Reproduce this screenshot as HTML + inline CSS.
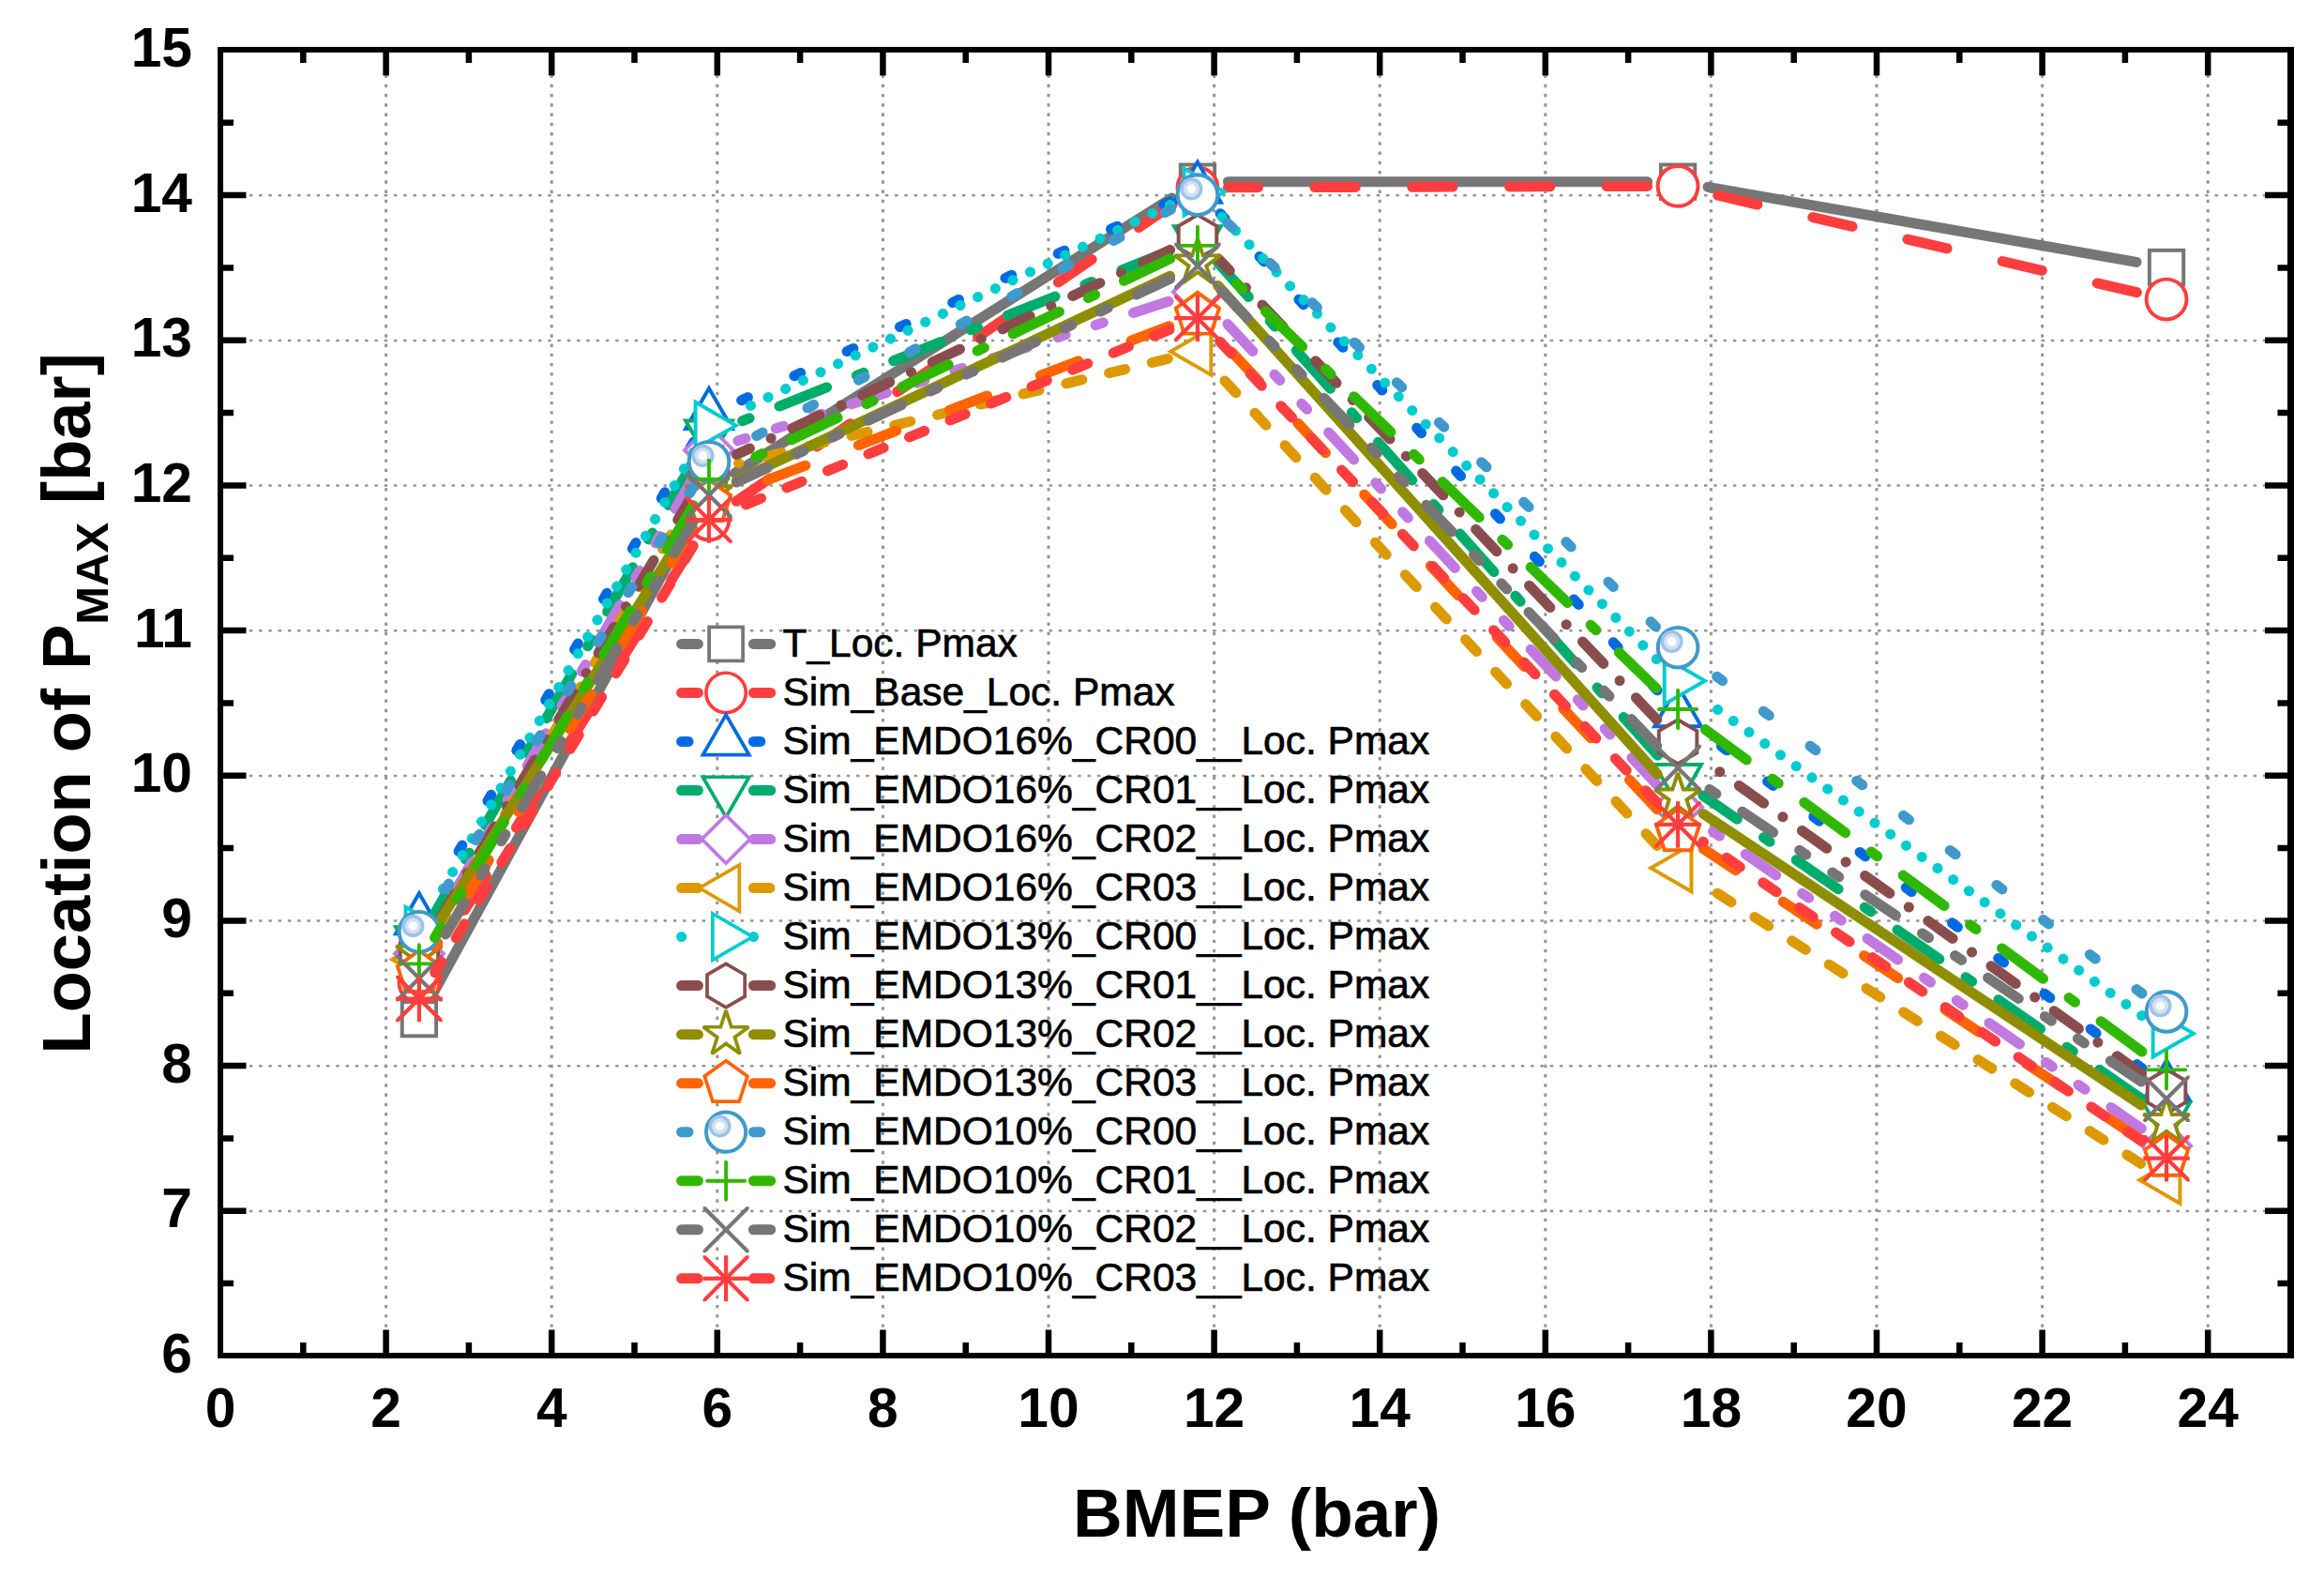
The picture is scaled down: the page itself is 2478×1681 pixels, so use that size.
<!DOCTYPE html>
<html><head><meta charset="utf-8"><title>Location of Pmax vs BMEP</title>
<style>
html,body{margin:0;padding:0;background:#fff;overflow:hidden}
svg{display:block}
text{font-family:"Liberation Sans",sans-serif;fill:#000}
.tk{font-weight:bold;font-size:58.7px}
.tt{font-weight:bold;font-size:72.3px}
.lg{font-size:42.5px;stroke:#000;stroke-width:0.7px}
</style></head><body>
<svg width="2478" height="1681" viewBox="0 0 2478 1681">
<defs><clipPath id="cb"><rect x="-24.5" y="-24.5" width="49" height="49"/></clipPath></defs>
<rect width="2478" height="1681" fill="#fff"/>
<g stroke="#959595" fill="none"><path stroke-width="3" stroke-dasharray="3.42 6.825" d="M411.6,1445.6 V53"/><path stroke-width="3" stroke-dasharray="3.42 6.825" d="M588.2,1445.6 V53"/><path stroke-width="3" stroke-dasharray="3.42 6.825" d="M764.8,1445.6 V53"/><path stroke-width="3" stroke-dasharray="3.42 6.825" d="M941.4,1445.6 V53"/><path stroke-width="3" stroke-dasharray="3.42 6.825" d="M1118,1445.6 V53"/><path stroke-width="3" stroke-dasharray="3.42 6.825" d="M1294.6,1445.6 V53"/><path stroke-width="3" stroke-dasharray="3.42 6.825" d="M1471.2,1445.6 V53"/><path stroke-width="3" stroke-dasharray="3.42 6.825" d="M1647.8,1445.6 V53"/><path stroke-width="3" stroke-dasharray="3.42 6.825" d="M1824.4,1445.6 V53"/><path stroke-width="3" stroke-dasharray="3.42 6.825" d="M2001,1445.6 V53"/><path stroke-width="3" stroke-dasharray="3.42 6.825" d="M2177.6,1445.6 V53"/><path stroke-width="3" stroke-dasharray="3.42 6.825" d="M2354.2,1445.6 V53"/><path stroke-width="2.5" stroke-dasharray="3.42 6.853" d="M235,1290.93 H2442.5"/><path stroke-width="2.5" stroke-dasharray="3.42 6.853" d="M235,1136.27 H2442.5"/><path stroke-width="2.5" stroke-dasharray="3.42 6.853" d="M235,981.6 H2442.5"/><path stroke-width="2.5" stroke-dasharray="3.42 6.853" d="M235,826.93 H2442.5"/><path stroke-width="2.5" stroke-dasharray="3.42 6.853" d="M235,672.27 H2442.5"/><path stroke-width="2.5" stroke-dasharray="3.42 6.853" d="M235,517.6 H2442.5"/><path stroke-width="2.5" stroke-dasharray="3.42 6.853" d="M235,362.93 H2442.5"/><path stroke-width="2.5" stroke-dasharray="3.42 6.853" d="M235,208.27 H2442.5"/></g>
<g><path d="M740.36,550.15L462.53,1057.67" fill="none" stroke="#767676" stroke-width="11" stroke-linecap="round"/><path d="M1249.43,211.06L783.48,504.33" fill="none" stroke="#767676" stroke-width="11" stroke-linecap="round"/><path d="M1756.58,193.75L1309.44,193.75" fill="none" stroke="#767676" stroke-width="11" stroke-linecap="round"/><path d="M2278.04,279.39L1821.09,199.35" fill="none" stroke="#767676" stroke-width="11" stroke-linecap="round"/><rect transform="translate(446.92,1086.17) scale(1.01)" x="-18" y="-18" width="36" height="36" fill="#fff" stroke="#767676" stroke-width="3.9"/><rect transform="translate(755.97,521.64) scale(1.01)" x="-18" y="-18" width="36" height="36" fill="#fff" stroke="#767676" stroke-width="3.9"/><rect transform="translate(1276.94,193.75) scale(1.01)" x="-18" y="-18" width="36" height="36" fill="#fff" stroke="#767676" stroke-width="3.9"/><rect transform="translate(1789.08,193.75) scale(1.01)" x="-18" y="-18" width="36" height="36" fill="#fff" stroke="#767676" stroke-width="3.9"/><rect transform="translate(2310.05,285) scale(1.01)" x="-18" y="-18" width="36" height="36" fill="#fff" stroke="#767676" stroke-width="3.9"/></g>
<g><path d="M738.72,581.66L464.17,1019.96" fill="none" stroke="#FE3E3E" stroke-width="11" stroke-linecap="round" stroke-dasharray="43.3 60.5"/><path d="M1250.06,218.21L782.85,535.85" fill="none" stroke="#FE3E3E" stroke-width="11" stroke-linecap="round" stroke-dasharray="43.3 60.5"/><path d="M1756.58,198.48L1309.44,199.84" fill="none" stroke="#FE3E3E" stroke-width="11" stroke-linecap="round" stroke-dasharray="43.3 60.5"/><path d="M2278.39,311.69L1820.74,205.72" fill="none" stroke="#FE3E3E" stroke-width="11" stroke-linecap="round" stroke-dasharray="43.3 60.5"/><circle transform="translate(446.92,1047.51) scale(1.01)" r="21.2" fill="#fff" stroke="#FE3E3E" stroke-width="3.9"/><circle transform="translate(755.97,554.12) scale(1.01)" r="21.2" fill="#fff" stroke="#FE3E3E" stroke-width="3.9"/><circle transform="translate(1276.94,199.93) scale(1.01)" r="21.2" fill="#fff" stroke="#FE3E3E" stroke-width="3.9"/><circle transform="translate(1789.08,198.39) scale(1.01)" r="21.2" fill="#fff" stroke="#FE3E3E" stroke-width="3.9"/><circle transform="translate(2310.05,319.03) scale(1.01)" r="21.2" fill="#fff" stroke="#FE3E3E" stroke-width="3.9"/></g>
<g><path d="M739.79,470.94L463.1,952.82" fill="none" stroke="#006BE0" stroke-width="11" stroke-linecap="round" stroke-dasharray="7.4 54.6"/><path d="M1247.45,215.14L785.46,429.1" fill="none" stroke="#006BE0" stroke-width="11" stroke-linecap="round" stroke-dasharray="7.4 54.6"/><path d="M1767.11,735.88L1298.91,225.43" fill="none" stroke="#006BE0" stroke-width="11" stroke-linecap="round" stroke-dasharray="7.4 54.6"/><path d="M2284.25,1139.1L1814.88,779.59" fill="none" stroke="#006BE0" stroke-width="11" stroke-linecap="round" stroke-dasharray="7.4 54.6"/><polygon transform="translate(446.92,981) scale(1.01)" points="0,-28.5 24.68,14.25 -24.68,14.25" fill="#fff" stroke="#006BE0" stroke-width="3.9"/><polygon transform="translate(755.97,442.76) scale(1.01)" points="0,-28.5 24.68,14.25 -24.68,14.25" fill="#fff" stroke="#006BE0" stroke-width="3.9"/><polygon transform="translate(1276.94,201.48) scale(1.01)" points="0,-28.5 24.68,14.25 -24.68,14.25" fill="#fff" stroke="#006BE0" stroke-width="3.9"/><polygon transform="translate(1789.08,759.83) scale(1.01)" points="0,-28.5 24.68,14.25 -24.68,14.25" fill="#fff" stroke="#006BE0" stroke-width="3.9"/><polygon transform="translate(2310.05,1158.87) scale(1.01)" points="0,-28.5 24.68,14.25 -24.68,14.25" fill="#fff" stroke="#006BE0" stroke-width="3.9"/></g>
<g><path d="M739.82,491.07L463.07,974.45" fill="none" stroke="#00AC6B" stroke-width="11" stroke-linecap="round" stroke-dasharray="54.5 34.25 8 34.25"/><path d="M1246.74,267.63L786.17,450.85" fill="none" stroke="#00AC6B" stroke-width="11" stroke-linecap="round" stroke-dasharray="54.5 34.25 8 34.25"/><path d="M1767.44,805.18L1298.58,279.86" fill="none" stroke="#00AC6B" stroke-width="11" stroke-linecap="round" stroke-dasharray="54.5 34.25 8 34.25"/><path d="M2283.32,1171.31L1815.81,847.92" fill="none" stroke="#00AC6B" stroke-width="11" stroke-linecap="round" stroke-dasharray="54.5 34.25 8 34.25"/><polygon transform="translate(446.92,1002.65) scale(1.01)" points="0,28.5 24.68,-14.25 -24.68,-14.25" fill="#fff" stroke="#00AC6B" stroke-width="3.9"/><polygon transform="translate(755.97,462.87) scale(1.01)" points="0,28.5 24.68,-14.25 -24.68,-14.25" fill="#fff" stroke="#00AC6B" stroke-width="3.9"/><polygon transform="translate(1276.94,255.61) scale(1.01)" points="0,28.5 24.68,-14.25 -24.68,-14.25" fill="#fff" stroke="#00AC6B" stroke-width="3.9"/><polygon transform="translate(1789.08,829.43) scale(1.01)" points="0,28.5 24.68,-14.25 -24.68,-14.25" fill="#fff" stroke="#00AC6B" stroke-width="3.9"/><polygon transform="translate(2310.05,1189.8) scale(1.01)" points="0,28.5 24.68,-14.25 -24.68,-14.25" fill="#fff" stroke="#00AC6B" stroke-width="3.9"/></g>
<g><path d="M739.75,508.04L463.14,988.41" fill="none" stroke="#C178E0" stroke-width="11" stroke-linecap="round" stroke-dasharray="39.5 33.8 8.5 33.8 8.5 33.9"/><path d="M1246.02,321.3L786.89,469.87" fill="none" stroke="#C178E0" stroke-width="11" stroke-linecap="round" stroke-dasharray="39.5 33.8 8.5 33.8 8.5 33.9"/><path d="M1766.91,836.59L1299.11,335.06" fill="none" stroke="#C178E0" stroke-width="11" stroke-linecap="round" stroke-dasharray="39.5 33.8 8.5 33.8 8.5 33.9"/><path d="M2283.34,1202.99L1815.79,878.88" fill="none" stroke="#C178E0" stroke-width="11" stroke-linecap="round" stroke-dasharray="39.5 33.8 8.5 33.8 8.5 33.9"/><polygon transform="translate(446.92,1016.57) scale(1.01)" points="0,-25.7 25.7,0 0,25.7 -25.7,0" fill="#fff" stroke="#C178E0" stroke-width="3.9"/><polygon transform="translate(755.97,479.88) scale(1.01)" points="0,-25.7 25.7,0 0,25.7 -25.7,0" fill="#fff" stroke="#C178E0" stroke-width="3.9"/><polygon transform="translate(1276.94,311.29) scale(1.01)" points="0,-25.7 25.7,0 0,25.7 -25.7,0" fill="#fff" stroke="#C178E0" stroke-width="3.9"/><polygon transform="translate(1789.08,860.36) scale(1.01)" points="0,-25.7 25.7,0 0,25.7 -25.7,0" fill="#fff" stroke="#C178E0" stroke-width="3.9"/><polygon transform="translate(2310.05,1221.51) scale(1.01)" points="0,-25.7 25.7,0 0,25.7 -25.7,0" fill="#fff" stroke="#C178E0" stroke-width="3.9"/></g>
<g><path d="M739.39,529.49L463.5,994.8" fill="none" stroke="#DC9A00" stroke-width="11" stroke-linecap="round" stroke-dasharray="17.5 29.6"/><path d="M1245.36,382.39L787.55,493.85" fill="none" stroke="#DC9A00" stroke-width="11" stroke-linecap="round" stroke-dasharray="17.5 29.6"/><path d="M1766.95,901.52L1299.07,398.5" fill="none" stroke="#DC9A00" stroke-width="11" stroke-linecap="round" stroke-dasharray="17.5 29.6"/><path d="M2282.66,1240.37L1816.47,942.81" fill="none" stroke="#DC9A00" stroke-width="11" stroke-linecap="round" stroke-dasharray="17.5 29.6"/><polygon transform="translate(446.92,1022.76) scale(1.01)" points="-28.5,0 14.25,-24.68 14.25,24.68" fill="#fff" stroke="#DC9A00" stroke-width="3.9"/><polygon transform="translate(755.97,501.53) scale(1.01)" points="-28.5,0 14.25,-24.68 14.25,24.68" fill="#fff" stroke="#DC9A00" stroke-width="3.9"/><polygon transform="translate(1276.94,374.71) scale(1.01)" points="-28.5,0 14.25,-24.68 14.25,24.68" fill="#fff" stroke="#DC9A00" stroke-width="3.9"/><polygon transform="translate(1789.08,925.32) scale(1.01)" points="-28.5,0 14.25,-24.68 14.25,24.68" fill="#fff" stroke="#DC9A00" stroke-width="3.9"/><polygon transform="translate(2310.05,1257.85) scale(1.01)" points="-28.5,0 14.25,-24.68 14.25,24.68" fill="#fff" stroke="#DC9A00" stroke-width="3.9"/></g>
<g><path d="M739.79,481.77L463.1,963.64" fill="none" stroke="#00CCD0" stroke-width="11" stroke-linecap="round" stroke-dasharray="0.1 20.55"/><path d="M1247.62,218.59L785.29,439.57" fill="none" stroke="#00CCD0" stroke-width="11" stroke-linecap="round" stroke-dasharray="0.1 20.55"/><path d="M1766.3,702.62L1299.72,227.76" fill="none" stroke="#00CCD0" stroke-width="11" stroke-linecap="round" stroke-dasharray="0.1 20.55"/><path d="M2283.69,1082.63L1815.44,744.81" fill="none" stroke="#00CCD0" stroke-width="11" stroke-linecap="round" stroke-dasharray="0.1 20.55"/><polygon transform="translate(446.92,991.83) scale(1.01)" points="28.5,0 -14.25,-24.68 -14.25,24.68" fill="#fff" stroke="#00CCD0" stroke-width="3.9"/><polygon transform="translate(755.97,453.59) scale(1.01)" points="28.5,0 -14.25,-24.68 -14.25,24.68" fill="#fff" stroke="#00CCD0" stroke-width="3.9"/><polygon transform="translate(1276.94,204.57) scale(1.01)" points="28.5,0 -14.25,-24.68 -14.25,24.68" fill="#fff" stroke="#00CCD0" stroke-width="3.9"/><polygon transform="translate(1789.08,725.8) scale(1.01)" points="28.5,0 -14.25,-24.68 -14.25,24.68" fill="#fff" stroke="#00CCD0" stroke-width="3.9"/><polygon transform="translate(2310.05,1101.64) scale(1.01)" points="28.5,0 -14.25,-24.68 -14.25,24.68" fill="#fff" stroke="#00CCD0" stroke-width="3.9"/></g>
<g><path d="M739.32,526.35L463.57,988.66" fill="none" stroke="#8A4D4D" stroke-width="11" stroke-linecap="round" stroke-dasharray="32.3 25.15 0.1 25.05"/><path d="M1247.55,266.39L785.36,484.57" fill="none" stroke="#8A4D4D" stroke-width="11" stroke-linecap="round" stroke-dasharray="32.3 25.15 0.1 25.05"/><path d="M1766.68,767.22L1299.34,276.06" fill="none" stroke="#8A4D4D" stroke-width="11" stroke-linecap="round" stroke-dasharray="32.3 25.15 0.1 25.05"/><path d="M2283.62,1144.6L1815.51,809.67" fill="none" stroke="#8A4D4D" stroke-width="11" stroke-linecap="round" stroke-dasharray="32.3 25.15 0.1 25.05"/><polygon transform="translate(446.92,1016.57) scale(1.01)" points="0,-23.2 20.09,-11.6 20.09,11.6 0,23.2 -20.09,11.6 -20.09,-11.6" fill="#fff" stroke="#8A4D4D" stroke-width="3.9"/><polygon transform="translate(755.97,498.44) scale(1.01)" points="0,-23.2 20.09,-11.6 20.09,11.6 0,23.2 -20.09,11.6 -20.09,-11.6" fill="#fff" stroke="#8A4D4D" stroke-width="3.9"/><polygon transform="translate(1276.94,252.52) scale(1.01)" points="0,-23.2 20.09,-11.6 20.09,11.6 0,23.2 -20.09,11.6 -20.09,-11.6" fill="#fff" stroke="#8A4D4D" stroke-width="3.9"/><polygon transform="translate(1789.08,790.76) scale(1.01)" points="0,-23.2 20.09,-11.6 20.09,11.6 0,23.2 -20.09,11.6 -20.09,-11.6" fill="#fff" stroke="#8A4D4D" stroke-width="3.9"/><polygon transform="translate(2310.05,1163.51) scale(1.01)" points="0,-23.2 20.09,-11.6 20.09,11.6 0,23.2 -20.09,11.6 -20.09,-11.6" fill="#fff" stroke="#8A4D4D" stroke-width="3.9"/></g>
<g><path d="M738.64,553.77L464.25,989.08" fill="none" stroke="#8E8E00" stroke-width="11" stroke-linecap="round"/><path d="M1247.55,294.23L785.36,512.41" fill="none" stroke="#8E8E00" stroke-width="11" stroke-linecap="round"/><path d="M1767.34,825.37L1298.68,304.52" fill="none" stroke="#8E8E00" stroke-width="11" stroke-linecap="round"/><path d="M2282.99,1177.99L1816.14,867.53" fill="none" stroke="#8E8E00" stroke-width="11" stroke-linecap="round"/><polygon transform="translate(446.92,1016.57) scale(1.01)" points="0,-25.5 5.73,-7.88 24.25,-7.88 9.26,3.01 14.99,20.63 0,9.74 -14.99,20.63 -9.26,3.01 -24.25,-7.88 -5.73,-7.88" fill="#fff" stroke="#8E8E00" stroke-width="3.9" stroke-miterlimit="2.5"/><polygon transform="translate(755.97,526.28) scale(1.01)" points="0,-25.5 5.73,-7.88 24.25,-7.88 9.26,3.01 14.99,20.63 0,9.74 -14.99,20.63 -9.26,3.01 -24.25,-7.88 -5.73,-7.88" fill="#fff" stroke="#8E8E00" stroke-width="3.9" stroke-miterlimit="2.5"/><polygon transform="translate(1276.94,280.36) scale(1.01)" points="0,-25.5 5.73,-7.88 24.25,-7.88 9.26,3.01 14.99,20.63 0,9.74 -14.99,20.63 -9.26,3.01 -24.25,-7.88 -5.73,-7.88" fill="#fff" stroke="#8E8E00" stroke-width="3.9" stroke-miterlimit="2.5"/><polygon transform="translate(1789.08,849.53) scale(1.01)" points="0,-25.5 5.73,-7.88 24.25,-7.88 9.26,3.01 14.99,20.63 0,9.74 -14.99,20.63 -9.26,3.01 -24.25,-7.88 -5.73,-7.88" fill="#fff" stroke="#8E8E00" stroke-width="3.9" stroke-miterlimit="2.5"/><polygon transform="translate(2310.05,1195.99) scale(1.01)" points="0,-25.5 5.73,-7.88 24.25,-7.88 9.26,3.01 14.99,20.63 0,9.74 -14.99,20.63 -9.26,3.01 -24.25,-7.88 -5.73,-7.88" fill="#fff" stroke="#8E8E00" stroke-width="3.9" stroke-miterlimit="2.5"/></g>
<g><path d="M738.93,563.23L463.96,1009.78" fill="none" stroke="#FF6400" stroke-width="11" stroke-linecap="round" stroke-dasharray="43.3 60.5"/><path d="M1246.59,347.66L786.32,523.94" fill="none" stroke="#FF6400" stroke-width="11" stroke-linecap="round" stroke-dasharray="43.3 60.5"/><path d="M1766.95,862.86L1299.07,359.84" fill="none" stroke="#FF6400" stroke-width="11" stroke-linecap="round" stroke-dasharray="43.3 60.5"/><path d="M2282.99,1215.11L1816.14,904.65" fill="none" stroke="#FF6400" stroke-width="11" stroke-linecap="round" stroke-dasharray="43.3 60.5"/><polygon transform="translate(446.92,1037.45) scale(1.01)" points="0,-24 22.83,-7.42 14.11,19.42 -14.11,19.42 -22.83,-7.42" fill="#fff" stroke="#FF6400" stroke-width="3.9"/><polygon transform="translate(755.97,535.56) scale(1.01)" points="0,-24 22.83,-7.42 14.11,19.42 -14.11,19.42 -22.83,-7.42" fill="#fff" stroke="#FF6400" stroke-width="3.9"/><polygon transform="translate(1276.94,336.04) scale(1.01)" points="0,-24 22.83,-7.42 14.11,19.42 -14.11,19.42 -22.83,-7.42" fill="#fff" stroke="#FF6400" stroke-width="3.9"/><polygon transform="translate(1789.08,886.65) scale(1.01)" points="0,-24 22.83,-7.42 14.11,19.42 -14.11,19.42 -22.83,-7.42" fill="#fff" stroke="#FF6400" stroke-width="3.9"/><polygon transform="translate(2310.05,1233.11) scale(1.01)" points="0,-24 22.83,-7.42 14.11,19.42 -14.11,19.42 -22.83,-7.42" fill="#fff" stroke="#FF6400" stroke-width="3.9"/></g>
<g><path d="M738.91,519.92L463.98,965.71" fill="none" stroke="#4099CC" stroke-width="11" stroke-linecap="round" stroke-dasharray="7.4 54.6"/><path d="M1248.42,223.25L784.49,476.67" fill="none" stroke="#4099CC" stroke-width="11" stroke-linecap="round" stroke-dasharray="7.4 54.6"/><path d="M1765.43,667.94L1300.59,229.95" fill="none" stroke="#4099CC" stroke-width="11" stroke-linecap="round" stroke-dasharray="7.4 54.6"/><path d="M2283.99,1059.02L1815.14,709.65" fill="none" stroke="#4099CC" stroke-width="11" stroke-linecap="round" stroke-dasharray="7.4 54.6"/><g transform="translate(446.92,993.37) scale(1.01)"><circle r="21.1" fill="#fff" stroke="#4099CC" stroke-width="4"/><circle cx="-6.5" cy="-6.3" r="12" fill="#9DC3E6"/><circle cx="-6.5" cy="-6.3" r="8.5" fill="#CFE1F2"/><circle cx="-6.5" cy="-6.3" r="4.8" fill="#FAFBFE"/></g><g transform="translate(755.97,492.25) scale(1.01)"><circle r="21.1" fill="#fff" stroke="#4099CC" stroke-width="4"/><circle cx="-6.5" cy="-6.3" r="12" fill="#9DC3E6"/><circle cx="-6.5" cy="-6.3" r="8.5" fill="#CFE1F2"/><circle cx="-6.5" cy="-6.3" r="4.8" fill="#FAFBFE"/></g><g transform="translate(1276.94,207.67) scale(1.01)"><circle r="21.1" fill="#fff" stroke="#4099CC" stroke-width="4"/><circle cx="-6.5" cy="-6.3" r="12" fill="#9DC3E6"/><circle cx="-6.5" cy="-6.3" r="8.5" fill="#CFE1F2"/><circle cx="-6.5" cy="-6.3" r="4.8" fill="#FAFBFE"/></g><g transform="translate(1789.08,690.23) scale(1.01)"><circle r="21.1" fill="#fff" stroke="#4099CC" stroke-width="4"/><circle cx="-6.5" cy="-6.3" r="12" fill="#9DC3E6"/><circle cx="-6.5" cy="-6.3" r="8.5" fill="#CFE1F2"/><circle cx="-6.5" cy="-6.3" r="4.8" fill="#FAFBFE"/></g><g transform="translate(2310.05,1078.44) scale(1.01)"><circle r="21.1" fill="#fff" stroke="#4099CC" stroke-width="4"/><circle cx="-6.5" cy="-6.3" r="12" fill="#9DC3E6"/><circle cx="-6.5" cy="-6.3" r="8.5" fill="#CFE1F2"/><circle cx="-6.5" cy="-6.3" r="4.8" fill="#FAFBFE"/></g></g>
<g><path d="M739.28,538.7L463.61,999.51" fill="none" stroke="#30B800" stroke-width="11" stroke-linecap="round" stroke-dasharray="54.5 34.25 8 34.25"/><path d="M1247.62,275.82L785.29,496.8" fill="none" stroke="#30B800" stroke-width="11" stroke-linecap="round" stroke-dasharray="54.5 34.25 8 34.25"/><path d="M1765.69,733.39L1300.33,284.37" fill="none" stroke="#30B800" stroke-width="11" stroke-linecap="round" stroke-dasharray="54.5 34.25 8 34.25"/><path d="M2283.9,1121.01L1815.23,775.25" fill="none" stroke="#30B800" stroke-width="11" stroke-linecap="round" stroke-dasharray="54.5 34.25 8 34.25"/><path transform="translate(446.92,1027.4) scale(1.01)" d="M-20,0H20M0,-20V20" fill="none" stroke="#30B800" stroke-width="3.8" stroke-linecap="round"/><path transform="translate(755.97,510.81) scale(1.01)" d="M-20,0H20M0,-20V20" fill="none" stroke="#30B800" stroke-width="3.8" stroke-linecap="round"/><path transform="translate(1276.94,261.8) scale(1.01)" d="M-20,0H20M0,-20V20" fill="none" stroke="#30B800" stroke-width="3.8" stroke-linecap="round"/><path transform="translate(1789.08,755.96) scale(1.01)" d="M-20,0H20M0,-20V20" fill="none" stroke="#30B800" stroke-width="3.8" stroke-linecap="round"/><path transform="translate(2310.05,1140.31) scale(1.01)" d="M-20,0H20M0,-20V20" fill="none" stroke="#30B800" stroke-width="3.8" stroke-linecap="round"/></g>
<g><path d="M739.25,555.69L463.64,1015" fill="none" stroke="#767676" stroke-width="11" stroke-linecap="round" stroke-dasharray="39.5 33.8 8.5 33.8 8.5 33.9"/><path d="M1247.52,297.26L785.39,514.02" fill="none" stroke="#767676" stroke-width="11" stroke-linecap="round" stroke-dasharray="39.5 33.8 8.5 33.8 8.5 33.9"/><path d="M1766.61,795.12L1299.41,306.93" fill="none" stroke="#767676" stroke-width="11" stroke-linecap="round" stroke-dasharray="39.5 33.8 8.5 33.8 8.5 33.9"/><path d="M2283.14,1153.02L1815.99,836.82" fill="none" stroke="#767676" stroke-width="11" stroke-linecap="round" stroke-dasharray="39.5 33.8 8.5 33.8 8.5 33.9"/><g transform="translate(446.92,1042.87) scale(1.01)" clip-path="url(#cb)"><path d="M-30,-30L30,30M-30,30L30,-30" fill="none" stroke="#767676" stroke-width="4.2"/></g><g transform="translate(755.97,527.83) scale(1.01)" clip-path="url(#cb)"><path d="M-30,-30L30,30M-30,30L30,-30" fill="none" stroke="#767676" stroke-width="4.2"/></g><g transform="translate(1276.94,283.45) scale(1.01)" clip-path="url(#cb)"><path d="M-30,-30L30,30M-30,30L30,-30" fill="none" stroke="#767676" stroke-width="4.2"/></g><g transform="translate(1789.08,818.6) scale(1.01)" clip-path="url(#cb)"><path d="M-30,-30L30,30M-30,30L30,-30" fill="none" stroke="#767676" stroke-width="4.2"/></g><g transform="translate(2310.05,1171.24) scale(1.01)" clip-path="url(#cb)"><path d="M-30,-30L30,30M-30,30L30,-30" fill="none" stroke="#767676" stroke-width="4.2"/></g></g>
<g><path d="M739.14,581.92L463.75,1036.72" fill="none" stroke="#FE3E3E" stroke-width="11" stroke-linecap="round" stroke-dasharray="17.5 29.6"/><path d="M1246.9,351.53L786.01,541.72" fill="none" stroke="#FE3E3E" stroke-width="11" stroke-linecap="round" stroke-dasharray="17.5 29.6"/><path d="M1766.71,855.34L1299.31,362.71" fill="none" stroke="#FE3E3E" stroke-width="11" stroke-linecap="round" stroke-dasharray="17.5 29.6"/><path d="M2283.21,1216.33L1815.92,897.25" fill="none" stroke="#FE3E3E" stroke-width="11" stroke-linecap="round" stroke-dasharray="17.5 29.6"/><g transform="translate(446.92,1064.52) scale(1.01)" clip-path="url(#cb)"><path d="M-30,-30L30,30M-30,30L30,-30M-30,0H30M0,-30V30" fill="none" stroke="#FE3E3E" stroke-width="4.2"/></g><g transform="translate(755.97,554.12) scale(1.01)" clip-path="url(#cb)"><path d="M-30,-30L30,30M-30,30L30,-30M-30,0H30M0,-30V30" fill="none" stroke="#FE3E3E" stroke-width="4.2"/></g><g transform="translate(1276.94,339.13) scale(1.01)" clip-path="url(#cb)"><path d="M-30,-30L30,30M-30,30L30,-30M-30,0H30M0,-30V30" fill="none" stroke="#FE3E3E" stroke-width="4.2"/></g><g transform="translate(1789.08,878.92) scale(1.01)" clip-path="url(#cb)"><path d="M-30,-30L30,30M-30,30L30,-30M-30,0H30M0,-30V30" fill="none" stroke="#FE3E3E" stroke-width="4.2"/></g><g transform="translate(2310.05,1234.65) scale(1.01)" clip-path="url(#cb)"><path d="M-30,-30L30,30M-30,30L30,-30M-30,0H30M0,-30V30" fill="none" stroke="#FE3E3E" stroke-width="4.2"/></g></g>
<path d="M726.6,686.4 H744.4" fill="none" stroke="#767676" stroke-width="11" stroke-linecap="round"/><path d="M803.4,686.4 H821.7" fill="none" stroke="#767676" stroke-width="11" stroke-linecap="round"/><rect transform="translate(774.1,686.4)" x="-18" y="-18" width="36" height="36" fill="#fff" stroke="#767676" stroke-width="3.7"/><text class="lg" x="834.5" y="700.1">T_Loc. Pmax</text>
<path d="M726.6,738.43 H744.4" fill="none" stroke="#FE3E3E" stroke-width="11" stroke-linecap="round" stroke-dasharray="43.3 60.5"/><path d="M803.4,738.43 H821.7" fill="none" stroke="#FE3E3E" stroke-width="11" stroke-linecap="round" stroke-dasharray="43.3 60.5"/><circle transform="translate(774.1,738.43)" r="21.2" fill="#fff" stroke="#FE3E3E" stroke-width="3.7"/><text class="lg" x="834.5" y="752.13">Sim_Base_Loc. Pmax</text>
<path d="M726.6,790.46 H744.4" fill="none" stroke="#006BE0" stroke-width="11" stroke-linecap="round" stroke-dasharray="7.4 54.6"/><path d="M803.4,790.46 H821.7" fill="none" stroke="#006BE0" stroke-width="11" stroke-linecap="round" stroke-dasharray="7.4 54.6"/><polygon transform="translate(774.1,790.46)" points="0,-28.5 24.68,14.25 -24.68,14.25" fill="#fff" stroke="#006BE0" stroke-width="3.7"/><text class="lg" x="834.5" y="804.16">Sim_EMDO16%_CR00__Loc. Pmax</text>
<path d="M726.6,842.49 H744.4" fill="none" stroke="#00AC6B" stroke-width="11" stroke-linecap="round" stroke-dasharray="54.5 34.25 8 34.25"/><path d="M803.4,842.49 H821.7" fill="none" stroke="#00AC6B" stroke-width="11" stroke-linecap="round" stroke-dasharray="54.5 34.25 8 34.25"/><polygon transform="translate(774.1,842.49)" points="0,28.5 24.68,-14.25 -24.68,-14.25" fill="#fff" stroke="#00AC6B" stroke-width="3.7"/><text class="lg" x="834.5" y="856.19">Sim_EMDO16%_CR01__Loc. Pmax</text>
<path d="M726.6,894.52 H744.4" fill="none" stroke="#C178E0" stroke-width="11" stroke-linecap="round" stroke-dasharray="39.5 33.8 8.5 33.8 8.5 33.9"/><path d="M803.4,894.52 H821.7" fill="none" stroke="#C178E0" stroke-width="11" stroke-linecap="round" stroke-dasharray="39.5 33.8 8.5 33.8 8.5 33.9"/><polygon transform="translate(774.1,894.52)" points="0,-25.7 25.7,0 0,25.7 -25.7,0" fill="#fff" stroke="#C178E0" stroke-width="3.7"/><text class="lg" x="834.5" y="908.22">Sim_EMDO16%_CR02__Loc. Pmax</text>
<path d="M726.6,946.55 H744.4" fill="none" stroke="#DC9A00" stroke-width="11" stroke-linecap="round" stroke-dasharray="17.5 29.6"/><path d="M803.4,946.55 H821.7" fill="none" stroke="#DC9A00" stroke-width="11" stroke-linecap="round" stroke-dasharray="17.5 29.6"/><polygon transform="translate(774.1,946.55)" points="-28.5,0 14.25,-24.68 14.25,24.68" fill="#fff" stroke="#DC9A00" stroke-width="3.7"/><text class="lg" x="834.5" y="960.25">Sim_EMDO16%_CR03__Loc. Pmax</text>
<path d="M726.6,998.58 H744.4" fill="none" stroke="#00CCD0" stroke-width="11" stroke-linecap="round" stroke-dasharray="0.1 20.55"/><path d="M803.4,998.58 H821.7" fill="none" stroke="#00CCD0" stroke-width="11" stroke-linecap="round" stroke-dasharray="0.1 20.55"/><polygon transform="translate(774.1,998.58)" points="28.5,0 -14.25,-24.68 -14.25,24.68" fill="#fff" stroke="#00CCD0" stroke-width="3.7"/><text class="lg" x="834.5" y="1012.28">Sim_EMDO13%_CR00__Loc. Pmax</text>
<path d="M726.6,1050.61 H744.4" fill="none" stroke="#8A4D4D" stroke-width="11" stroke-linecap="round" stroke-dasharray="32.3 25.15 0.1 25.05"/><path d="M803.4,1050.61 H821.7" fill="none" stroke="#8A4D4D" stroke-width="11" stroke-linecap="round" stroke-dasharray="32.3 25.15 0.1 25.05"/><polygon transform="translate(774.1,1050.61)" points="0,-23.2 20.09,-11.6 20.09,11.6 0,23.2 -20.09,11.6 -20.09,-11.6" fill="#fff" stroke="#8A4D4D" stroke-width="3.7"/><text class="lg" x="834.5" y="1064.31">Sim_EMDO13%_CR01__Loc. Pmax</text>
<path d="M726.6,1102.64 H744.4" fill="none" stroke="#8E8E00" stroke-width="11" stroke-linecap="round"/><path d="M803.4,1102.64 H821.7" fill="none" stroke="#8E8E00" stroke-width="11" stroke-linecap="round"/><polygon transform="translate(774.1,1102.64)" points="0,-25.5 5.73,-7.88 24.25,-7.88 9.26,3.01 14.99,20.63 0,9.74 -14.99,20.63 -9.26,3.01 -24.25,-7.88 -5.73,-7.88" fill="#fff" stroke="#8E8E00" stroke-width="3.7" stroke-miterlimit="2.5"/><text class="lg" x="834.5" y="1116.34">Sim_EMDO13%_CR02__Loc. Pmax</text>
<path d="M726.6,1154.67 H744.4" fill="none" stroke="#FF6400" stroke-width="11" stroke-linecap="round" stroke-dasharray="43.3 60.5"/><path d="M803.4,1154.67 H821.7" fill="none" stroke="#FF6400" stroke-width="11" stroke-linecap="round" stroke-dasharray="43.3 60.5"/><polygon transform="translate(774.1,1154.67)" points="0,-24 22.83,-7.42 14.11,19.42 -14.11,19.42 -22.83,-7.42" fill="#fff" stroke="#FF6400" stroke-width="3.7"/><text class="lg" x="834.5" y="1168.37">Sim_EMDO13%_CR03__Loc. Pmax</text>
<path d="M726.6,1206.7 H744.4" fill="none" stroke="#4099CC" stroke-width="11" stroke-linecap="round" stroke-dasharray="7.4 54.6"/><path d="M803.4,1206.7 H821.7" fill="none" stroke="#4099CC" stroke-width="11" stroke-linecap="round" stroke-dasharray="7.4 54.6"/><g transform="translate(774.1,1206.7)"><circle r="21.1" fill="#fff" stroke="#4099CC" stroke-width="4"/><circle cx="-6.5" cy="-6.3" r="12" fill="#9DC3E6"/><circle cx="-6.5" cy="-6.3" r="8.5" fill="#CFE1F2"/><circle cx="-6.5" cy="-6.3" r="4.8" fill="#FAFBFE"/></g><text class="lg" x="834.5" y="1220.4">Sim_EMDO10%_CR00__Loc. Pmax</text>
<path d="M726.6,1258.73 H744.4" fill="none" stroke="#30B800" stroke-width="11" stroke-linecap="round" stroke-dasharray="54.5 34.25 8 34.25"/><path d="M803.4,1258.73 H821.7" fill="none" stroke="#30B800" stroke-width="11" stroke-linecap="round" stroke-dasharray="54.5 34.25 8 34.25"/><path transform="translate(774.1,1258.73)" d="M-20,0H20M0,-20V20" fill="none" stroke="#30B800" stroke-width="3.8" stroke-linecap="round"/><text class="lg" x="834.5" y="1272.43">Sim_EMDO10%_CR01__Loc. Pmax</text>
<path d="M726.6,1310.76 H744.4" fill="none" stroke="#767676" stroke-width="11" stroke-linecap="round" stroke-dasharray="39.5 33.8 8.5 33.8 8.5 33.9"/><path d="M803.4,1310.76 H821.7" fill="none" stroke="#767676" stroke-width="11" stroke-linecap="round" stroke-dasharray="39.5 33.8 8.5 33.8 8.5 33.9"/><g transform="translate(774.1,1310.76)" clip-path="url(#cb)"><path d="M-30,-30L30,30M-30,30L30,-30" fill="none" stroke="#767676" stroke-width="4.2"/></g><text class="lg" x="834.5" y="1324.46">Sim_EMDO10%_CR02__Loc. Pmax</text>
<path d="M726.6,1362.79 H744.4" fill="none" stroke="#FE3E3E" stroke-width="11" stroke-linecap="round" stroke-dasharray="17.5 29.6"/><path d="M803.4,1362.79 H821.7" fill="none" stroke="#FE3E3E" stroke-width="11" stroke-linecap="round" stroke-dasharray="17.5 29.6"/><g transform="translate(774.1,1362.79)" clip-path="url(#cb)"><path d="M-30,-30L30,30M-30,30L30,-30M-30,0H30M0,-30V30" fill="none" stroke="#FE3E3E" stroke-width="4.2"/></g><text class="lg" x="834.5" y="1376.49">Sim_EMDO10%_CR03__Loc. Pmax</text>
<rect x="235" y="53" width="2207.5" height="1392" fill="none" stroke="#000" stroke-width="6"/>
<rect x="2439" y="50" width="7" height="1398" fill="#000"/>
<g stroke="#000" stroke-width="6.5" fill="none"><path d="M323.3,1445 v-14 M323.3,53 v14"/><path d="M411.6,1445 v-27.5 M411.6,53 v27.5"/><path d="M499.9,1445 v-14 M499.9,53 v14"/><path d="M588.2,1445 v-27.5 M588.2,53 v27.5"/><path d="M676.5,1445 v-14 M676.5,53 v14"/><path d="M764.8,1445 v-27.5 M764.8,53 v27.5"/><path d="M853.1,1445 v-14 M853.1,53 v14"/><path d="M941.4,1445 v-27.5 M941.4,53 v27.5"/><path d="M1029.7,1445 v-14 M1029.7,53 v14"/><path d="M1118,1445 v-27.5 M1118,53 v27.5"/><path d="M1206.3,1445 v-14 M1206.3,53 v14"/><path d="M1294.6,1445 v-27.5 M1294.6,53 v27.5"/><path d="M1382.9,1445 v-14 M1382.9,53 v14"/><path d="M1471.2,1445 v-27.5 M1471.2,53 v27.5"/><path d="M1559.5,1445 v-14 M1559.5,53 v14"/><path d="M1647.8,1445 v-27.5 M1647.8,53 v27.5"/><path d="M1736.1,1445 v-14 M1736.1,53 v14"/><path d="M1824.4,1445 v-27.5 M1824.4,53 v27.5"/><path d="M1912.7,1445 v-14 M1912.7,53 v14"/><path d="M2001,1445 v-27.5 M2001,53 v27.5"/><path d="M2089.3,1445 v-14 M2089.3,53 v14"/><path d="M2177.6,1445 v-27.5 M2177.6,53 v27.5"/><path d="M2265.9,1445 v-14 M2265.9,53 v14"/><path d="M2354.2,1445 v-27.5 M2354.2,53 v27.5"/><path d="M235,1368.07 h14 M2442.5,1368.07 h-14"/><path d="M235,1290.73 h27.5 M2442.5,1290.73 h-27.5"/><path d="M235,1213.4 h14 M2442.5,1213.4 h-14"/><path d="M235,1136.07 h27.5 M2442.5,1136.07 h-27.5"/><path d="M235,1058.73 h14 M2442.5,1058.73 h-14"/><path d="M235,981.4 h27.5 M2442.5,981.4 h-27.5"/><path d="M235,904.07 h14 M2442.5,904.07 h-14"/><path d="M235,826.73 h27.5 M2442.5,826.73 h-27.5"/><path d="M235,749.4 h14 M2442.5,749.4 h-14"/><path d="M235,672.07 h27.5 M2442.5,672.07 h-27.5"/><path d="M235,594.73 h14 M2442.5,594.73 h-14"/><path d="M235,517.4 h27.5 M2442.5,517.4 h-27.5"/><path d="M235,440.07 h14 M2442.5,440.07 h-14"/><path d="M235,362.73 h27.5 M2442.5,362.73 h-27.5"/><path d="M235,285.4 h14 M2442.5,285.4 h-14"/><path d="M235,208.07 h27.5 M2442.5,208.07 h-27.5"/><path d="M235,130.73 h14 M2442.5,130.73 h-14"/></g>
<text class="tk" text-anchor="middle" x="235" y="1521">0</text><text class="tk" text-anchor="middle" x="411.6" y="1521">2</text><text class="tk" text-anchor="middle" x="588.2" y="1521">4</text><text class="tk" text-anchor="middle" x="764.8" y="1521">6</text><text class="tk" text-anchor="middle" x="941.4" y="1521">8</text><text class="tk" text-anchor="middle" x="1118" y="1521">10</text><text class="tk" text-anchor="middle" x="1294.6" y="1521">12</text><text class="tk" text-anchor="middle" x="1471.2" y="1521">14</text><text class="tk" text-anchor="middle" x="1647.8" y="1521">16</text><text class="tk" text-anchor="middle" x="1824.4" y="1521">18</text><text class="tk" text-anchor="middle" x="2001" y="1521">20</text><text class="tk" text-anchor="middle" x="2177.6" y="1521">22</text><text class="tk" text-anchor="middle" x="2354.2" y="1521">24</text>
<text class="tk" text-anchor="end" x="205" y="1463">6</text><text class="tk" text-anchor="end" x="205" y="1308.33">7</text><text class="tk" text-anchor="end" x="205" y="1153.67">8</text><text class="tk" text-anchor="end" x="205" y="999">9</text><text class="tk" text-anchor="end" x="205" y="844.33">10</text><text class="tk" text-anchor="end" x="205" y="689.67">11</text><text class="tk" text-anchor="end" x="205" y="535">12</text><text class="tk" text-anchor="end" x="205" y="380.33">13</text><text class="tk" text-anchor="end" x="205" y="225.67">14</text><text class="tk" text-anchor="end" x="205" y="71">15</text>
<text class="tt" style="font-size:73px" text-anchor="middle" x="1340" y="1637.7">BMEP (bar)</text>
<text class="tt" transform="translate(96.1,1123.5) rotate(-90)">Location of P<tspan dy="19" font-size="48.9px">MAX</tspan><tspan dy="-19"> [bar]</tspan></text>
</svg>
</body></html>
